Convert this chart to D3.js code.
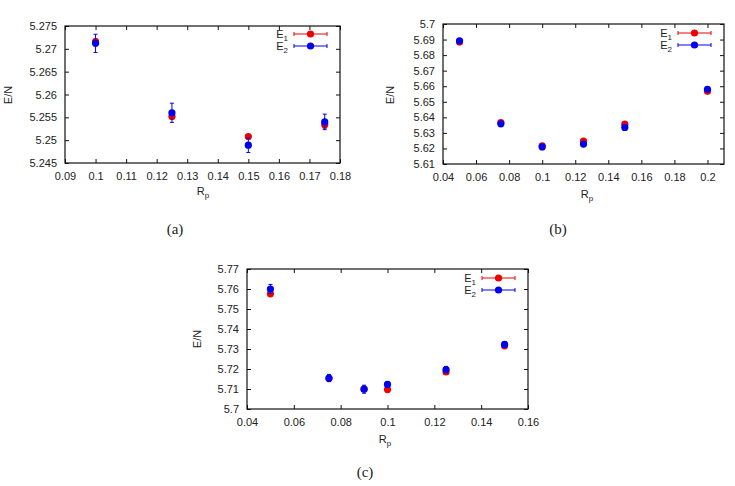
<!DOCTYPE html>
<html lang="en">
<head>
<meta charset="utf-8">
<title>E/N vs Rp</title>
<style type="text/css">
	body { margin: 0; background: #fff; }
	svg { display: block; }
	.tick text { font-family: "Liberation Sans", Arial, sans-serif; font-size: 11px; fill: #222; }
	.lbl { font-family: "Liberation Sans", Arial, sans-serif; font-size: 11px; fill: #222; }
	.cap { font-family: "Liberation Serif", "DejaVu Serif", serif; font-size: 15px; fill: #222; }
</style>
</head>
<body>
<svg id="chart" width="735" height="486"></svg>
<script src="https://cdnjs.cloudflare.com/ajax/libs/d3/7.8.5/d3.min.js"></script>
<script type="text/javascript">
	// panel (a)
	var rpA = [0.1, 0.125, 0.15, 0.175];
	var e1A = [5.2716, 5.2552, 5.2508, 5.2534];
	var e1ErrA = [0.0006, 0.0006, 0.0004, 0.0008];
	var e2A = [5.2712, 5.2560, 5.2489, 5.2540];
	var e2ErrA = [0.0020, 0.0021, 0.0016, 0.0017];
	var xTicksA = [0.09, 0.1, 0.11, 0.12, 0.13, 0.14, 0.15, 0.16, 0.17, 0.18];
	var yTicksA = [5.245, 5.25, 5.255, 5.26, 5.265, 5.27, 5.275];

	// panel (b)
	var rpB = [0.05, 0.075, 0.1, 0.125, 0.15, 0.2];
	var e1B = [5.6884, 5.6366, 5.6216, 5.6247, 5.6356, 5.6567];
	var e1ErrB = [0.0005, 0.0005, 0.0004, 0.0004, 0.0004, 0.0006];
	var e2B = [5.6892, 5.6358, 5.6210, 5.6228, 5.6335, 5.6580];
	var e2ErrB = [0.0006, 0.0007, 0.0007, 0.0007, 0.0006, 0.0015];
	var xTicksB = [0.04, 0.06, 0.08, 0.1, 0.12, 0.14, 0.16, 0.18, 0.2];
	var yTicksB = [5.61, 5.62, 5.63, 5.64, 5.65, 5.66, 5.67, 5.68, 5.69, 5.7];

	// panel (c)
	var rpC = [0.05, 0.075, 0.09, 0.1, 0.125, 0.15];
	var e1C = [5.7576, 5.7152, 5.7100, 5.7097, 5.7185, 5.7316];
	var e1ErrC = [0.0005, 0.0006, 0.0005, 0.0004, 0.0005, 0.0005];
	var e2C = [5.7600, 5.7155, 5.7099, 5.7123, 5.7197, 5.7323];
	var e2ErrC = [0.0023, 0.0018, 0.0020, 0.0013, 0.0016, 0.0014];
	var xTicksC = [0.04, 0.06, 0.08, 0.1, 0.12, 0.14, 0.16];
	var yTicksC = [5.7, 5.71, 5.72, 5.73, 5.74, 5.75, 5.76, 5.77];

	var svg = d3.select("#chart");
	var red = "#ee0000", blue = "#0000ee";

	function panel(o) {
		var g = svg.append("g");
		var x = d3.scaleLinear().domain(o.xDom).range([o.left, o.right]);
		var y = d3.scaleLinear().domain(o.yDom).range([o.bottom, o.top]);
		var fmt = function (d) { return String(+d.toFixed(4)); };

		// axes with inward ticks, mirrored on top and right
		g.append("g").attr("transform", "translate(0," + o.bottom + ")")
			.call(d3.axisBottom(x).tickValues(o.xTicks).tickFormat(fmt).tickSizeInner(-4).tickSizeOuter(0).tickPadding(9));
		g.append("g").attr("transform", "translate(0," + o.top + ")")
			.call(d3.axisTop(x).tickValues(o.xTicks).tickFormat("").tickSizeInner(-4).tickSizeOuter(0));
		g.append("g").attr("transform", "translate(" + o.left + ",0)")
			.call(d3.axisLeft(y).tickValues(o.yTicks).tickFormat(fmt).tickSizeInner(-4).tickSizeOuter(0).tickPadding(8));
		g.append("g").attr("transform", "translate(" + o.right + ",0)")
			.call(d3.axisRight(y).tickValues(o.yTicks).tickFormat("").tickSizeInner(-4).tickSizeOuter(0));
		g.selectAll(".domain").remove();
		g.selectAll(".tick line").attr("stroke", "#111");

		g.append("rect").attr("x", o.left).attr("y", o.top)
			.attr("width", o.right - o.left).attr("height", o.bottom - o.top)
			.attr("fill", "none").attr("stroke", "#111").attr("stroke-width", 1.2);

		// series: E1 first (red), E2 on top (blue)
		[[o.e1, o.e1Err, red], [o.e2, o.e2Err, blue]].forEach(function (s) {
			var pts = o.rp.map(function (r, i) { return { x: r, v: s[0][i], e: s[1][i] }; });
			var sg = g.append("g");
			sg.selectAll(".eb").data(pts).enter().append("path")
				.attr("d", function (d) {
					var cx = x(d.x), y0 = y(d.v - d.e), y1 = y(d.v + d.e);
					return "M" + cx + "," + y0 + "V" + y1 +
						"M" + (cx - 2) + "," + y0 + "H" + (cx + 2) +
						"M" + (cx - 2) + "," + y1 + "H" + (cx + 2);
				})
				.attr("stroke", s[2]).attr("stroke-width", 1).attr("fill", "none");
			sg.selectAll("circle").data(pts).enter().append("circle")
				.attr("cx", function (d) { return x(d.x); })
				.attr("cy", function (d) { return y(d.v); })
				.attr("r", 3.6).attr("fill", s[2]);
		});

		// legend
		[["1", red, o.leg[1]], ["2", blue, o.leg[1] + 12]].forEach(function (l) {
			var ly = l[2];
			var t = g.append("text").attr("class", "lbl").attr("x", o.leg[0]).attr("y", ly + 4)
				.attr("text-anchor", "end");
			t.append("tspan").text("E");
			t.append("tspan").attr("font-size", "8px").attr("dy", 3).text(l[0]);
			var lx0 = o.leg[0] + 6, lx1 = o.leg[0] + 39;
			g.append("path")
				.attr("d", "M" + lx0 + "," + ly + "H" + lx1 +
					"M" + lx0 + "," + (ly - 2) + "V" + (ly + 2) +
					"M" + lx1 + "," + (ly - 2) + "V" + (ly + 2))
				.attr("stroke", l[1]).attr("stroke-width", 1);
			g.append("circle").attr("cx", (lx0 + lx1) / 2).attr("cy", ly).attr("r", 3.6).attr("fill", l[1]);
		});

		// axis titles
		g.append("text").attr("class", "lbl")
			.attr("transform", "translate(" + o.yLab[0] + "," + o.yLab[1] + ") rotate(-90)")
			.attr("text-anchor", "middle").attr("dy", "0.35em").text("E/N");
		var xt = g.append("text").attr("class", "lbl").attr("x", o.xLab[0]).attr("y", o.xLab[1])
			.attr("text-anchor", "middle");
		xt.append("tspan").text("R");
		xt.append("tspan").attr("font-size", "8px").attr("dy", 3).text("p");

		svg.append("text").attr("class", "cap").attr("x", o.cap[0]).attr("y", o.cap[1])
			.attr("text-anchor", "middle").text(o.capText);
	}

	panel({
		rp: rpA, e1: e1A, e1Err: e1ErrA, e2: e2A, e2Err: e2ErrA,
		xDom: [0.09, 0.18], yDom: [5.245, 5.275], xTicks: xTicksA, yTicks: yTicksA,
		left: 65, right: 340, top: 26, bottom: 163,
		leg: [288, 34], yLab: [8, 95], xLab: [203, 195], cap: [175, 234], capText: "(a)"
	});
	panel({
		rp: rpB, e1: e1B, e1Err: e1ErrB, e2: e2B, e2Err: e2ErrB,
		xDom: [0.04, 0.21], yDom: [5.61, 5.7], xTicks: xTicksB, yTicks: yTicksB,
		left: 443, right: 724, top: 24, bottom: 164,
		leg: [672, 33], yLab: [390, 95], xLab: [587, 198], cap: [558, 234], capText: "(b)"
	});
	panel({
		rp: rpC, e1: e1C, e1Err: e1ErrC, e2: e2C, e2Err: e2ErrC,
		xDom: [0.04, 0.16], yDom: [5.7, 5.77], xTicks: xTicksC, yTicks: yTicksC,
		left: 247, right: 528, top: 269, bottom: 409,
		leg: [476, 278], yLab: [197, 339], xLab: [385, 443], cap: [365, 477], capText: "(c)"
	});
</script>
</body>
</html>
